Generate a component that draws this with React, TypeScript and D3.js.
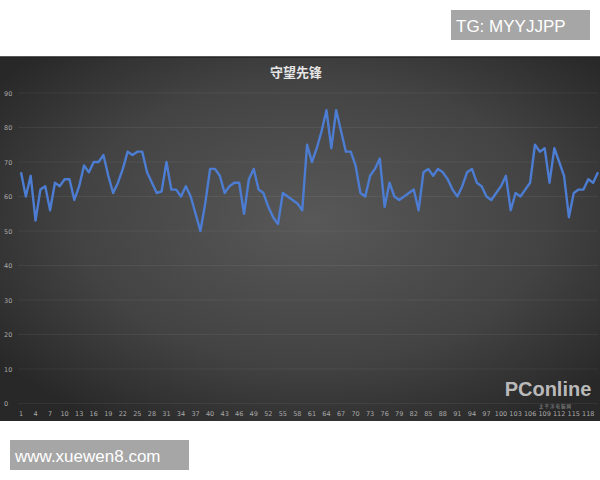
import React, { useEffect, useRef, ReactElement } from 'react'
import * as d3 from 'd3'

// frame rate per sample
const fps = [
  67, 60, 66, 53, 62, 63, 56, 64, 63, 65,
  65, 59, 63, 69, 67, 70, 70, 72, 66, 61,
  64, 68, 73, 72, 73, 73, 67, 64, 61, 61.5,
  70, 62, 62, 60, 63, 60, 55, 50, 58, 68,
  68, 66, 61, 63, 64, 64, 55, 65, 68, 62,
  61, 57, 54, 52, 61, 60, 59, 58, 56, 75,
  70, 74, 79, 85, 74, 85, 79, 73, 73, 69,
  61, 60, 66, 68, 71, 57, 64, 60, 59, 60,
  61, 62, 56, 67, 68, 66, 68, 67, 65, 62,
  60, 63, 67, 68, 64, 63, 60, 59, 61, 63,
  66, 56, 61, 60, 62, 64, 75, 73, 74, 64,
  74, 70, 66, 54, 61, 62, 62, 65, 64, 67
]
const categories = fps.map((_, i) => i + 1)
const xTickLabels = categories.filter(c => (c - 1) % 3 === 0)
const yTicks = [0, 10, 20, 30, 40, 50, 60, 70, 80, 90]
const title = '守望先锋'

const App = (): ReactElement => {
  const ref = useRef<SVGSVGElement>(null)

  useEffect(() => {
    const svg = d3.select(ref.current)
    svg.selectAll('*').remove()

    const W = 600
    const panelTop = 57
    const panelBottom = 421

    const defs = svg.append('defs')
    const grad = defs.append('radialGradient')
      .attr('id', 'bg')
      .attr('cx', '52%').attr('cy', '45%').attr('r', '65%')
    grad.append('stop').attr('offset', '0%').attr('stop-color', '#585858')
    grad.append('stop').attr('offset', '60%').attr('stop-color', '#434343')
    grad.append('stop').attr('offset', '100%').attr('stop-color', '#282828')

    svg.append('rect').attr('width', W).attr('height', 480).attr('fill', '#ffffff')
    svg.append('rect')
      .attr('x', 0).attr('y', panelTop)
      .attr('width', W).attr('height', panelBottom - panelTop)
      .attr('fill', 'url(#bg)')
    svg.append('line')
      .attr('x1', 0).attr('x2', W).attr('y1', panelTop).attr('y2', panelTop)
      .attr('stroke', '#222').attr('stroke-width', 1.5)

    const x = d3.scalePoint<number>().domain(categories).range([21, 598])
    const y = d3.scaleLinear().domain([0, 90]).range([403.5, 93])

    // grid
    svg.append('g').selectAll('line')
      .data(yTicks)
      .join('line')
      .attr('x1', 18).attr('x2', 598)
      .attr('y1', d => y(d)).attr('y2', d => y(d))
      .attr('stroke', '#ffffff').attr('stroke-opacity', 0.06)
      .attr('stroke-width', 1)

    // y labels
    svg.append('g').selectAll('text')
      .data(yTicks)
      .join('text')
      .attr('x', 4)
      .attr('y', d => y(d) + 2.5)
      .style('font-family', 'DejaVu Sans, sans-serif')
      .style('font-size', '6.5px')
      .style('fill', '#a8a8a8')
      .text(d => d)

    // x labels
    svg.append('g').selectAll('text')
      .data(xTickLabels)
      .join('text')
      .attr('x', d => x(d) as number)
      .attr('y', 416)
      .attr('text-anchor', 'middle')
      .style('font-family', 'DejaVu Sans, sans-serif')
      .style('font-size', '6.5px')
      .style('fill', '#a8a8a8')
      .text(d => d)

    // title
    svg.append('text')
      .attr('x', 296).attr('y', 77)
      .attr('text-anchor', 'middle')
      .style('font-family', 'Noto Sans CJK SC, sans-serif')
      .style('font-size', '13px')
      .style('font-weight', 'bold')
      .style('fill', '#e6e6e6')
      .text(title)

    // series
    const line = d3.line<number>()
      .x((_, i) => x(categories[i]) as number)
      .y(d => y(d))
    svg.append('path')
      .datum(fps)
      .attr('d', line)
      .attr('fill', 'none')
      .attr('stroke', '#4c7dd2')
      .attr('stroke-width', 2.4)
      .attr('stroke-linejoin', 'round')

    // PConline logo
    svg.append('text')
      .attr('x', 548).attr('y', 396)
      .attr('text-anchor', 'middle')
      .style('font-family', 'Liberation Sans, Arial, sans-serif')
      .style('font-size', '20px')
      .style('font-weight', 'bold')
      .style('fill', '#d4d4d4')
      .style('fill-opacity', 0.85)
      .text('PConline')
    svg.append('text')
      .attr('x', 555).attr('y', 407.5)
      .attr('text-anchor', 'middle')
      .style('font-family', 'Noto Sans CJK SC, sans-serif')
      .style('font-size', '4.5px')
      .style('fill', '#c8c8c8')
      .style('fill-opacity', 0.7)
      .text('太 平 洋 电 脑 网')

    // watermarks
    svg.append('rect').attr('x', 451).attr('y', 10).attr('width', 139).attr('height', 30).attr('fill', '#a6a6a6')
    svg.append('text')
      .attr('x', 456).attr('y', 32)
      .style('font-family', 'Liberation Sans, Arial, sans-serif')
      .style('font-size', '17px')
      .style('fill', '#ffffff')
      .text('TG: MYYJJPP')
    svg.append('rect').attr('x', 10).attr('y', 440).attr('width', 179).attr('height', 30).attr('fill', '#a6a6a6')
    svg.append('text')
      .attr('x', 15).attr('y', 462)
      .style('font-family', 'Liberation Sans, Arial, sans-serif')
      .style('font-size', '17px')
      .style('fill', '#ffffff')
      .text('www.xuewen8.com')
  }, [])

  return (
    <div style={{ position: 'absolute', left: 0, top: 0 }}>
      <svg ref={ref} width={600} height={480} style={{ display: 'block' }} />
    </div>
  )
}

export default App
